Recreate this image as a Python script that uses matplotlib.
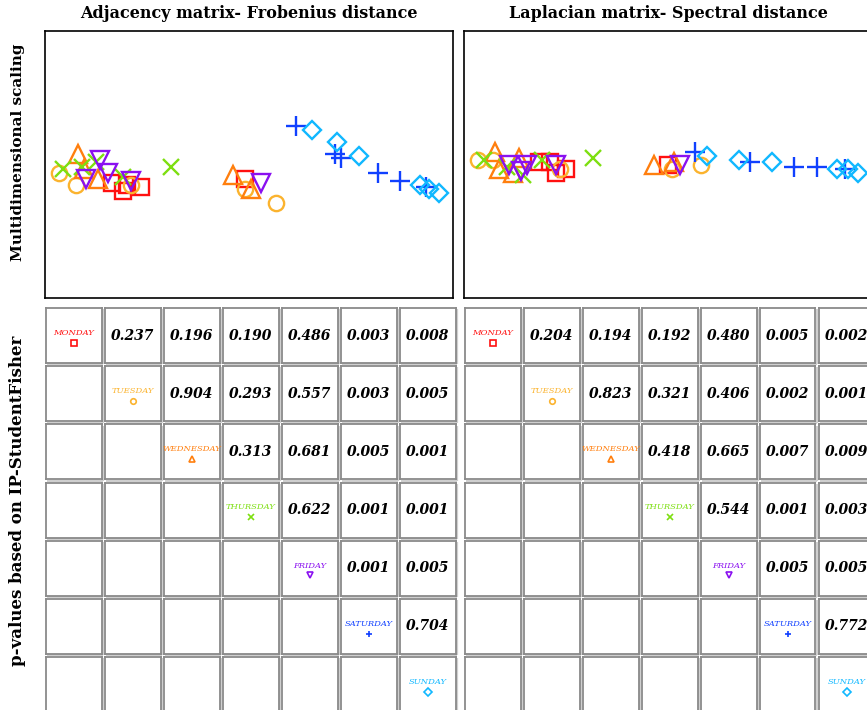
import numpy as np
import matplotlib
matplotlib.use('Agg')
import matplotlib.pyplot as plt

plt.rcParams['font.family'] = ['DejaVu Serif']

days = ['MONDAY', 'TUESDAY', 'WEDNESDAY', 'THURSDAY', 'FRIDAY', 'SATURDAY', 'SUNDAY']
day_colors = ['#ff1010', '#fbb32e', '#ff7f0e', '#7ddf10', '#8a10f0', '#1040ff', '#10b8ff']
day_markers = ['s', 'o', '^', 'x', 'v', '+', 'D']
marker_sizes = [11, 11, 13, 12, 13, 15, 9.5]

titles = ['Adjacency matrix- Frobenius distance', 'Laplacian matrix- Spectral distance']

# MDS coordinates, adjacency / Frobenius
adj_x = {
    'MONDAY':    [-0.67, -0.62, -0.60, -0.53, -0.02],
    'TUESDAY':   [-0.93, -0.85, -0.58, -0.02, 0.13],
    'WEDNESDAY': [-0.84, -0.81, -0.74, -0.08, 0.01],
    'THURSDAY':  [-0.91, -0.82, -0.75, -0.62, -0.38],
    'FRIDAY':    [-0.73, -0.80, -0.69, -0.58, 0.06],
    'SATURDAY':  [0.23, 0.42, 0.45, 0.63, 0.74, 0.87],
    'SUNDAY':    [0.31, 0.43, 0.54, 0.84, 0.88, 0.93],
}
adj_y = {
    'MONDAY':    [-0.09, -0.13, -0.10, -0.11, -0.07],
    'TUESDAY':   [-0.04, -0.10, -0.10, -0.12, -0.19],
    'WEDNESDAY': [0.05, -0.02, -0.07, -0.05, -0.12],
    'THURSDAY':  [-0.02, -0.01, 0.01, -0.06, -0.01],
    'FRIDAY':    [0.02, -0.07, -0.04, -0.08, -0.09],
    'SATURDAY':  [0.19, 0.05, 0.03, -0.04, -0.08, -0.11],
    'SUNDAY':    [0.17, 0.11, 0.04, -0.10, -0.12, -0.14],
}

# MDS coordinates, laplacian / spectral
lap_x = {
    'MONDAY':    [-0.63, -0.58, -0.55, -0.50, 0.00],
    'TUESDAY':   [-0.93, -0.86, -0.53, 0.02, 0.16],
    'WEDNESDAY': [-0.85, -0.83, -0.76, -0.73, -0.07, 0.03],
    'THURSDAY':  [-0.90, -0.79, -0.71, -0.62, -0.37],
    'FRIDAY':    [-0.78, -0.72, -0.69, -0.55, 0.06],
    'SATURDAY':  [0.13, 0.40, 0.62, 0.73, 0.87],
    'SUNDAY':    [0.19, 0.35, 0.51, 0.83, 0.88, 0.93],
}
lap_y = {
    'MONDAY':    [0.01, 0.01, -0.04, -0.02, 0.00],
    'TUESDAY':   [0.02, 0.02, -0.02, -0.02, 0.00],
    'WEDNESDAY': [0.06, -0.02, -0.04, 0.03, 0.00, 0.01],
    'THURSDAY':  [0.02, -0.01, -0.05, 0.02, 0.03],
    'FRIDAY':    [0.00, -0.03, 0.00, 0.00, 0.00],
    'SATURDAY':  [0.06, 0.01, -0.01, -0.01, -0.02],
    'SUNDAY':    [0.04, 0.02, 0.01, -0.02, -0.02, -0.04],
}

# p-values (upper triangle), row i vs column j > i
adj_p = [
    [0.237, 0.196, 0.190, 0.486, 0.003, 0.008],
    [0.904, 0.293, 0.557, 0.003, 0.005],
    [0.313, 0.681, 0.005, 0.001],
    [0.622, 0.001, 0.001],
    [0.001, 0.005],
    [0.704],
    [],
]
lap_p = [
    [0.204, 0.194, 0.192, 0.480, 0.005, 0.002],
    [0.823, 0.321, 0.406, 0.002, 0.001],
    [0.418, 0.665, 0.007, 0.009],
    [0.544, 0.001, 0.003],
    [0.005, 0.005],
    [0.772],
    [],
]

W, H = 867, 710
fig = plt.figure(figsize=(W / 100, H / 100), dpi=100)


def px_axes(x0, y0, w, h):
    return fig.add_axes([x0 / W, 1 - (y0 + h) / H, w / W, h / H])


panel_left = [45, 464]
for k, (xs, ys, pvals) in enumerate([(adj_x, adj_y, adj_p), (lap_x, lap_y, lap_p)]):
    ax = px_axes(panel_left[k], 31, 408, 267)
    for d, c, m, ms in zip(days, day_colors, day_markers, marker_sizes):
        if m in ('x', '+'):
            ax.plot(xs[d], ys[d], ls='none', marker=m, ms=ms, mew=1.7, color=c)
        else:
            ax.plot(xs[d], ys[d], ls='none', marker=m, ms=ms, mew=1.7,
                    mfc='none', mec=c)
    ax.set_xlim(-1, 1)
    ax.set_ylim(-0.654, 0.654)
    ax.set_xticks([])
    ax.set_yticks([])
    for s in ax.spines.values():
        s.set_linewidth(1.2)
    ax.set_title(titles[k], fontsize=11.5, fontweight='bold', pad=9)

    # p-value grid
    for i in range(7):
        for j in range(7):
            cx = panel_left[k] + 0.5 + j * 59.0
            cy = 308 + i * 58.2
            cax = px_axes(cx, cy, 56, 55)
            cax.set_xticks([])
            cax.set_yticks([])
            cax.set_xlim(0, 1)
            cax.set_ylim(0, 1)
            for s in cax.spines.values():
                s.set_color('#8a8a8a')
                s.set_linewidth(1.3)
            # light shadow along bottom and right
            cax.plot([0.02, 1.02], [-0.025, -0.025], color='#cfcfcf', lw=1.6,
                     clip_on=False, solid_capstyle='butt')
            cax.plot([1.02, 1.02], [-0.025, 0.98], color='#cfcfcf', lw=1.6,
                     clip_on=False, solid_capstyle='butt')
            if j == i:
                cax.text(0.5, 0.55, days[i], ha='center', va='center',
                         fontsize=6, style='italic', color=day_colors[i])
                if day_markers[i] in ('x', '+'):
                    cax.plot([0.5], [0.37], marker=day_markers[i], ms=5, mew=1.2,
                             color=day_colors[i])
                else:
                    cax.plot([0.5], [0.37], marker=day_markers[i], ms=4, mew=1.2,
                             mfc='none', mec=day_colors[i])
            elif j > i:
                cax.text(0.5, 0.5, '%.3f' % pvals[i][j - i - 1], ha='center',
                         va='center', fontsize=10, style='italic',
                         fontweight='bold')

fig.text(18 / W, 1 - 152 / H, 'Multidimensional scaling', rotation=90,
         ha='center', va='center', fontsize=11, fontweight='bold')
fig.text(18 / W, 1 - 501 / H, 'p-values based on IP-StudentFisher', rotation=90,
         ha='center', va='center', fontsize=12, fontweight='bold')

fig.savefig('out.png', dpi=100)
